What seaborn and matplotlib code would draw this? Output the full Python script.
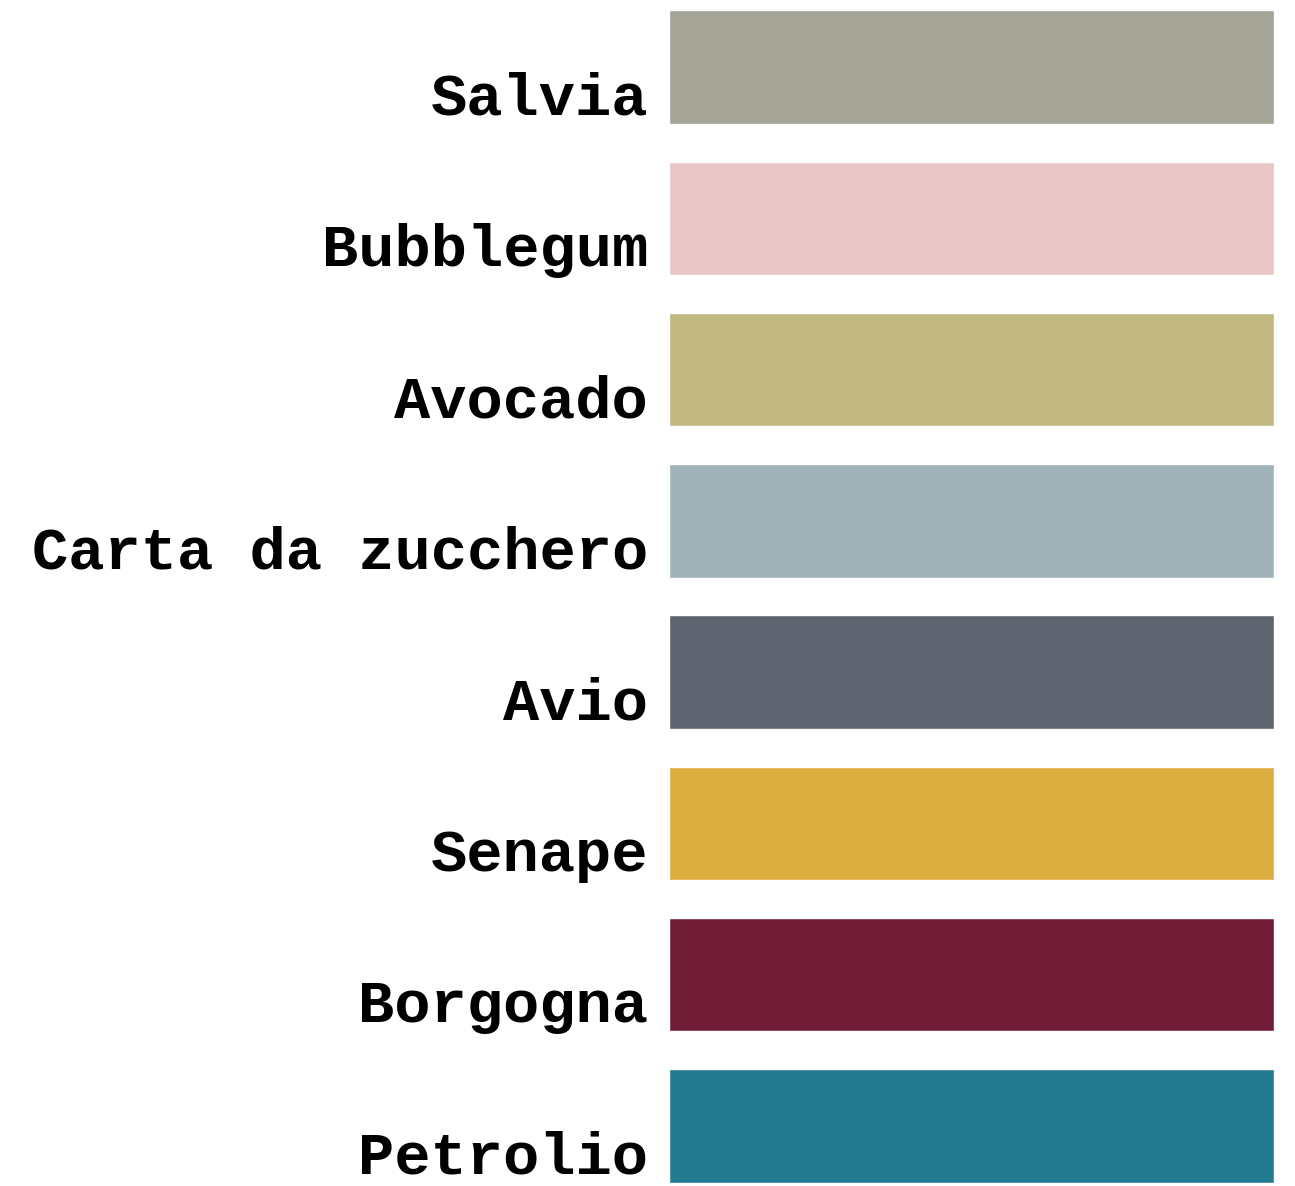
import matplotlib
matplotlib.use("Agg")
import matplotlib.pyplot as plt
import matplotlib.transforms as mtransforms
import seaborn as sns
import pandas as pd

names = ["Salvia", "Bubblegum", "Avocado", "Carta da zucchero", "Avio",
         "Senape", "Borgogna", "Petrolio"]
values = [1, 1, 1, 1, 1, 1, 1, 1]
colors = ["#A4A597", "#EBC6C6", "#C1B880", "#9FB2B8", "#5E6370",
          "#DBAD3E", "#721D38", "#227A8E"]

df = pd.DataFrame({"name": names, "value": values})

sns.set_style("white")
fig = plt.figure(figsize=(12.95, 11.86), dpi=100)
ax = fig.add_axes([669 / 1295, 0, (1274 - 669) / 1295, 1])

sns.barplot(data=df, x="value", y="name", hue="name", palette=colors,
            legend=False, width=0.75, orient="h", ax=ax, saturation=1)

ax.set_xlim(0, 1)
ax.set_ylim(7.397, -0.443)
ax.set_axis_off()

trans = mtransforms.blended_transform_factory(ax.transAxes, ax.transData)
offset = mtransforms.ScaledTranslation(-21 / 100, 9 / 100, fig.dpi_scale_trans)
for i, n in enumerate(names):
    ax.text(0, i + 0.375, n, transform=trans + offset, ha="right",
            va="baseline", fontsize=43.5, fontweight="bold",
            family=["Liberation Mono", "DejaVu Sans Mono"], color="black")

fig.savefig("out.png", dpi=100, facecolor="white")
